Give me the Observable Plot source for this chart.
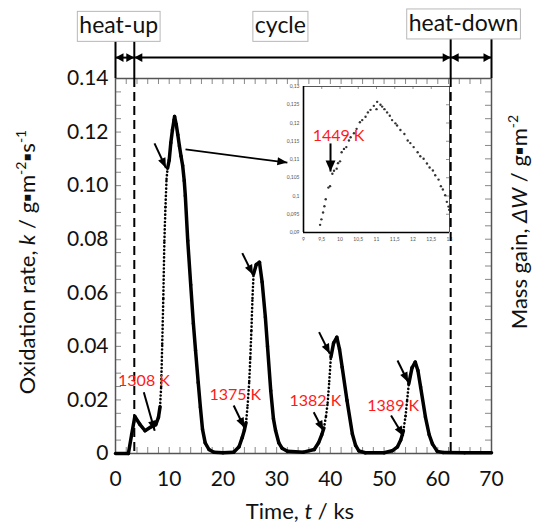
<!DOCTYPE html>
<html><head><meta charset="utf-8">
<script src="https://cdn.jsdelivr.net/npm/d3@7"></script>
<script src="https://cdn.jsdelivr.net/npm/@observablehq/plot@0.6"></script>
<style>
body{margin:0;background:#fff}
#wrap{position:relative;width:537px;height:525px;font-family:Lato,"Open Sans",sans-serif}
#wrap svg{position:absolute;left:0;top:0;overflow:visible}
</style></head><body><div id="wrap"></div>
<script>
// ---- main series: oxidation rate k (g·m-2·s-1) vs time t (ks)
const time = [0,2.4,3.0,3.6,4.5,5.5,6.5,7.5,8.0,8.3,8.5,8.7,8.9,9.1,9.3,9.5,9.7,10.0,10.3,10.6,10.9,11.0,11.3,11.6,11.9,12.2,12.5,12.8,13.0,13.45,14.0,14.5,14.9,15.4,15.8,16.2,16.7,17.4,18.3,20.0,22.0,23.0,23.6,24.0,24.3,24.6,24.9,25.1,25.3,25.5,25.7,26.2,26.8,27.3,27.9,28.3,28.9,29.4,29.8,30.4,31.0,32.0,35.0,37.0,37.8,38.4,38.8,39.2,39.5,39.8,40.1,40.6,41.2,41.7,42.2,43.1,44.1,44.7,45.3,46.5,50.0,51.5,52.5,53.1,53.6,54.0,54.3,54.6,55.2,55.8,56.3,56.8,57.7,58.4,59.0,59.9,61.0,65.0,70.0];
const rate = [0,0,0.007,0.0138,0.011,0.0085,0.0098,0.0108,0.0135,0.0175,0.025,0.041,0.058,0.0795,0.092,0.1025,0.1065,0.1095,0.116,0.1208,0.1245,0.1258,0.1229,0.119,0.1148,0.111,0.1075,0.1018,0.0962,0.0795,0.063,0.0485,0.0385,0.0265,0.0173,0.009,0.004,0.0015,0.0005,0.0003,0.0005,0.0025,0.006,0.0088,0.0115,0.018,0.027,0.036,0.046,0.058,0.067,0.0705,0.0714,0.064,0.0509,0.04,0.0235,0.013,0.0086,0.004,0.002,0.0008,0.0005,0.0015,0.004,0.007,0.0095,0.014,0.019,0.027,0.036,0.0412,0.0434,0.039,0.0322,0.0198,0.0073,0.003,0.001,0.0003,0.0003,0.001,0.0025,0.005,0.0085,0.014,0.02,0.026,0.032,0.0341,0.031,0.0248,0.0136,0.007,0.0036,0.0008,0.0004,0.0003,0.0003];
// rapid-rise intervals (sparse sampling, drawn dotted)
const fastFrom = [8.3, 24.3, 38.8, 53.6];
const fastTo   = [9.7, 25.7, 40.1, 54.6];

// ---- inset: first peak in detail
const insetTime = [9.455,9.491,9.536,9.573,9.609,9.682,9.727,9.791,9.836,9.909,9.945,10.0,10.045,10.109,10.173,10.245,10.291,10.382,10.455,10.545,10.609,10.7,10.764,10.836,10.927,11.018,11.0,11.109,11.155,11.218,11.291,11.364,11.427,11.518,11.564,11.655,11.764,11.855,11.927,12.018,12.127,12.2,12.291,12.382,12.455,12.545,12.609,12.7,12.764,12.818,12.882,12.927,12.973,12.991];
const insetRate = [0.0921,0.0936,0.0955,0.0972,0.0991,0.1023,0.1027,0.1061,0.1069,0.1075,0.1090,0.1095,0.1120,0.1129,0.1134,0.1152,0.1161,0.1172,0.1184,0.1202,0.1208,0.1217,0.1229,0.1236,0.1247,0.1258,0.1238,0.1250,0.1245,0.1238,0.1229,0.1220,0.1208,0.1199,0.1193,0.1181,0.1170,0.1152,0.1145,0.1134,0.1120,0.1109,0.1102,0.1089,0.1078,0.1070,0.1057,0.1045,0.1027,0.1018,0.1002,0.0984,0.0971,0.0962];
const insetXTicks = [9,9.5,10,10.5,11,11.5,12,12.5,13];
const insetYTicks = [0.09,0.095,0.1,0.105,0.11,0.115,0.12,0.125,0.13];

// ---- phases
const phaseNames = ["heat-up","cycle","heat-down"];
const phaseStart = [0, 3.5, 62.4];
const phaseEnd   = [3.5, 62.4, 70];
const phaseLabelT = [0.6, 30.7, 64.8];
const phaseLabelK = [0.1596, 0.1596, 0.1605];

// ---- axes ticks
const xTicks = [0,10,20,30,40,50,60,70];
const xMinor = d3.range(0, 70.001, 2);
const yTicks = [0,0.02,0.04,0.06,0.08,0.10,0.12,0.14];
const yMinor = d3.range(0, 0.14001, 0.005);

// ---- temperature annotations
const tempLabels = ["1308 K","1375 K","1382 K","1389 K"];
const tempLabelT = [5.3, 22.3, 37.2, 51.7];
const tempLabelK = [0.0272, 0.0220, 0.0195, 0.0177];
const arrowFromT = [5.27, 22.0, 7.26, 23.6, 36.9, 37.9, 51.3, 52.5];
const arrowFromK = [0.0229, 0.0179, 0.1158, 0.0748, 0.0154, 0.0453, 0.0142, 0.0347];
const arrowToT   = [7.3, 24.0, 9.4, 25.6, 38.7, 39.9, 53.6, 54.5];
const arrowToK   = [0.0085, 0.0096, 0.1066, 0.0667, 0.0085, 0.0372, 0.0065, 0.0266];
// pointer from first peak to inset
const zoomFrom = {t: 13.03, k: 0.1135};
const zoomTo = {t: 32.0, k: 0.1086};
// inset annotation
const insetLabel = "1449 K";
const insetLabelT = 9.96, insetLabelK = 0.1166;
const insetArrow = {t: 9.74, k1: 0.1144, k2: 0.1067};

// ======================= drawing
const W = 537, H = 525;
const mL = 115, mR = 46, mT = 78, mB = 72;
const pw = W - mL - mR, ph = H - mT - mB;
const xS = Plot.scale({x: {domain: [0, 70], range: [mL, W - mR]}});
const yS = Plot.scale({y: {domain: [0, 0.14], range: [H - mB, mT]}});
function angle(sx, x1, y1, x2, y2, sy) {
  const dx = sx.apply(x2) - sx.apply(x1), dy = sy.apply(y2) - sy.apply(y1);
  return Math.atan2(dx, -dy) * 180 / Math.PI;
}
function head(wr) {
  return {draw(ctx, size) {
    const r = Math.sqrt(size / Math.PI);
    ctx.moveTo(0, 0); ctx.lineTo(-wr * r, 2 * r); ctx.lineTo(wr * r, 2 * r); ctx.closePath();
  }};
}

const pts = time.map((t, i) => ({t, k: rate[i]}));
const segs = d3.pairs(pts).map(([a, b]) => ({
  t1: a.t, k1: a.k, t2: b.t, k2: b.k,
  fast: fastFrom.some((f, j) => a.t >= f && b.t <= fastTo[j])
}));
const phases = phaseNames.map((name, i) => ({name, s: phaseStart[i], e: phaseEnd[i], lt: phaseLabelT[i], lk: phaseLabelK[i]}));
const arrows = arrowFromT.map((t, i) => ({t1: t, k1: arrowFromK[i], t2: arrowToT[i], k2: arrowToK[i]}));
arrows.forEach(a => a.rot = angle(xS, a.t1, a.k1, a.t2, a.k2, yS));
const zoomArrow = [{t1: zoomFrom.t, k1: zoomFrom.k, t2: zoomTo.t, k2: zoomTo.k}];
zoomArrow[0].rot = angle(xS, zoomFrom.t, zoomFrom.k, zoomTo.t, zoomTo.k, yS);
const bounds = Array.from(new Set([...phaseStart, ...phaseEnd]));
const topY = 0.1549, arrowY = 0.1478;

const main = Plot.plot({
  width: W, height: H,
  marginLeft: mL, marginRight: mR, marginTop: mT, marginBottom: mB,
  x: {domain: [0, 70], axis: null},
  y: {domain: [0, 0.14], axis: null},
  style: {fontFamily: "Lato, 'Open Sans', sans-serif", background: "transparent", overflow: "visible"},
  marks: [
    // ticks (inward); y1 is the upper end, y2 the lower end
    Plot.ruleX(xMinor, {x: d => d, y1: 0.14, y2: 0, insetTop: ph - 6, stroke: "#888", strokeWidth: 1}),
    Plot.ruleX(xMinor, {x: d => d, y1: 0.14, y2: 0, insetBottom: ph - 6, stroke: "#888", strokeWidth: 1}),
    Plot.ruleY(yMinor, {y: d => d, x1: 0, x2: 70, insetRight: pw - 6, stroke: "#888", strokeWidth: 1}),
    Plot.ruleY(yMinor, {y: d => d, x1: 0, x2: 70, insetLeft: pw - 6, stroke: "#888", strokeWidth: 1}),
    Plot.frame({stroke: "#555", strokeWidth: 1.5}),
    // tick labels
    Plot.text(xTicks, {x: d => d, y: 0, dy: 26, text: d => String(d), fontSize: 21, fill: "#111", lineAnchor: "middle"}),
    Plot.text(yTicks, {x: 0, y: d => d, dx: -7, text: d => d === 0 ? "0" : d.toFixed(2), textAnchor: "end", fontSize: 21, fill: "#111", lineAnchor: "middle"}),
    // phase boundaries
    Plot.ruleX([phaseStart[1], phaseStart[2]], {x: d => d, y1: 0.14, y2: 0, stroke: "black", strokeWidth: 2, strokeDasharray: "9,5"}),
    Plot.ruleX(bounds, {x: d => d, y1: topY, y2: 0.14, stroke: "black", strokeWidth: 2}),
    Plot.link(phases, {x1: "s", x2: "e", y1: arrowY, y2: arrowY, stroke: "black", strokeWidth: 2}),
    Plot.dot(phases, {x: "s", y: arrowY, symbol: head(1.1), r: 4, rotate: -90, fill: "black", stroke: null}),
    Plot.dot(phases, {x: "e", y: arrowY, symbol: head(1.1), r: 4, rotate: 90, fill: "black", stroke: null}),
    Plot.text(phases, {x: "lt", y: "lk", text: "name", fontSize: 23, fill: "#111", lineAnchor: "middle"}),
    // curve
    Plot.link(segs.filter(d => !d.fast), {x1: "t1", y1: "k1", x2: "t2", y2: "k2", stroke: "black", strokeWidth: 3.5, strokeLinecap: "round"}),
    Plot.link(segs.filter(d => d.fast), {x1: "t1", y1: "k1", x2: "t2", y2: "k2", stroke: "black", strokeWidth: 2.6, strokeLinecap: "round", strokeDasharray: "0.1,3.6"}),
    // annotations
    Plot.link(arrows, {x1: "t1", y1: "k1", x2: "t2", y2: "k2", stroke: "black", strokeWidth: 2}),
    Plot.dot(arrows, {x: "t2", y: "k2", rotate: "rot", symbol: head(0.8), r: 5, fill: "black", stroke: null}),
    Plot.link(zoomArrow, {x1: "t1", y1: "k1", x2: "t2", y2: "k2", stroke: "black", strokeWidth: 1.8}),
    Plot.dot(zoomArrow, {x: "t2", y: "k2", rotate: "rot", symbol: head(0.8), r: 5, fill: "black", stroke: null}),
    Plot.text(tempLabels, {x: (d, i) => tempLabelT[i], y: (d, i) => tempLabelK[i], text: d => d, fill: "#ff1a1a", fontSize: 16, lineAnchor: "middle"})
  ]
});

const iL = 303, iR = 88, iT = 86, iB = 293;
const commaFmt = d => String(+d.toFixed(3)).replace(".", ",");
const inset = Plot.plot({
  width: W, height: H,
  marginLeft: iL, marginRight: iR, marginTop: iT, marginBottom: iB,
  x: {domain: [9, 13], axis: null},
  y: {domain: [0.09, 0.13], axis: null},
  style: {fontFamily: "Lato, 'Open Sans', sans-serif", background: "transparent", overflow: "visible"},
  marks: [
    Plot.ruleX(insetXTicks, {x: d => d, y1: 0.13, y2: 0.09, insetBottom: 146 - 3, stroke: "#777", strokeWidth: 0.8}),
    Plot.ruleY(insetYTicks, {y: d => d, x1: 9, x2: 13, insetLeft: 146 - 3, stroke: "#777", strokeWidth: 0.8}),
    Plot.ruleY([0.13], {stroke: "#555", strokeWidth: 1}),
    Plot.ruleX([13], {stroke: "#555", strokeWidth: 1}),
    Plot.ruleX([9], {stroke: "black", strokeWidth: 1.6}),
    Plot.ruleY([0.09], {stroke: "black", strokeWidth: 1.6}),
    Plot.text(insetXTicks, {x: d => d, y: 0.09, dy: 7, text: commaFmt, fontSize: 5, fill: "#555", lineAnchor: "middle"}),
    Plot.text(insetYTicks, {x: 9, y: d => d, dx: -4, text: commaFmt, fontSize: 5, fill: "#555", textAnchor: "end", lineAnchor: "middle"}),
    Plot.dot(insetTime.map((t, i) => ({t, k: insetRate[i]})), {x: "t", y: "k", r: 1.2, fill: "#333", stroke: null}),
    Plot.link([insetArrow], {x1: "t", x2: "t", y1: "k1", y2: "k2", stroke: "black", strokeWidth: 2}),
    Plot.dot([insetArrow], {x: "t", y: "k2", rotate: 180, symbol: head(0.9), r: 5.5, fill: "black", stroke: null}),
    Plot.text([insetLabel], {x: insetLabelT, y: insetLabelK, text: d => d, fill: "#ff1a1a", fontSize: 16, lineAnchor: "middle"})
  ]
});

const wrap = document.getElementById("wrap");
wrap.appendChild(inset);
wrap.appendChild(main);

// boxes around phase labels
const svgM = d3.select(main);
const ctx2 = document.createElement("canvas").getContext("2d");
ctx2.font = "23px Lato, 'Open Sans', sans-serif";
svgM.selectAll("text").filter(function() { return phaseNames.includes(this.textContent.trim()); }).each(function() {
  let b = this.getBBox();
  if (!b.width) {
    const w = ctx2.measureText(this.textContent).width;
    const m = (this.getAttribute("transform") || "").match(/translate\(([-\d.]+),\s*([-\d.]+)\)/);
    const cx = m ? +m[1] : 0, cy = m ? +m[2] : 0;
    b = {x: cx - w / 2, y: cy - 14, width: w, height: 28};
  }
  const tr = this.getAttribute("transform") || "";
  d3.select(this.parentNode).insert("rect", () => this)
    .attr("transform", tr)
    .attr("x", b.x - 2).attr("y", b.y + 1).attr("width", b.width + 4).attr("height", b.height + 2)
    .attr("fill", "white").attr("stroke", "#b8b8b8").attr("stroke-width", 1);
});

// axis titles with italics and superscripts
function title(x, y, rot, parts) {
  const t = svgM.append("text")
    .attr("transform", `translate(${x},${y}) rotate(${rot})`)
    .attr("text-anchor", "middle").attr("font-size", 22).attr("fill", "#111")
    .attr("font-family", "Lato, 'Open Sans', sans-serif").attr("dy", "0.35em");
  parts.forEach(p => {
    const s = t.append("tspan").text(p.s);
    if (p.i) s.attr("font-style", "italic");
    if (p.sup) s.attr("font-size", 14).attr("dy", -9);
    if (p.after) s.attr("dy", 9);
  });
}
title(27, 262, -90, [{s: "Oxidation rate, "}, {s: "k", i: 1}, {s: " / g▪m"}, {s: "-2", sup: 1}, {s: "▪s", after: 1}, {s: "-1", sup: 1}]);
title(519, 222, -90, [{s: "Mass gain, "}, {s: "ΔW", i: 1}, {s: " / g▪m"}, {s: "-2", sup: 1}]);
title(300, 511, 0, [{s: "Time, "}, {s: "t", i: 1}, {s: " / ks"}]);
</script></body></html>
